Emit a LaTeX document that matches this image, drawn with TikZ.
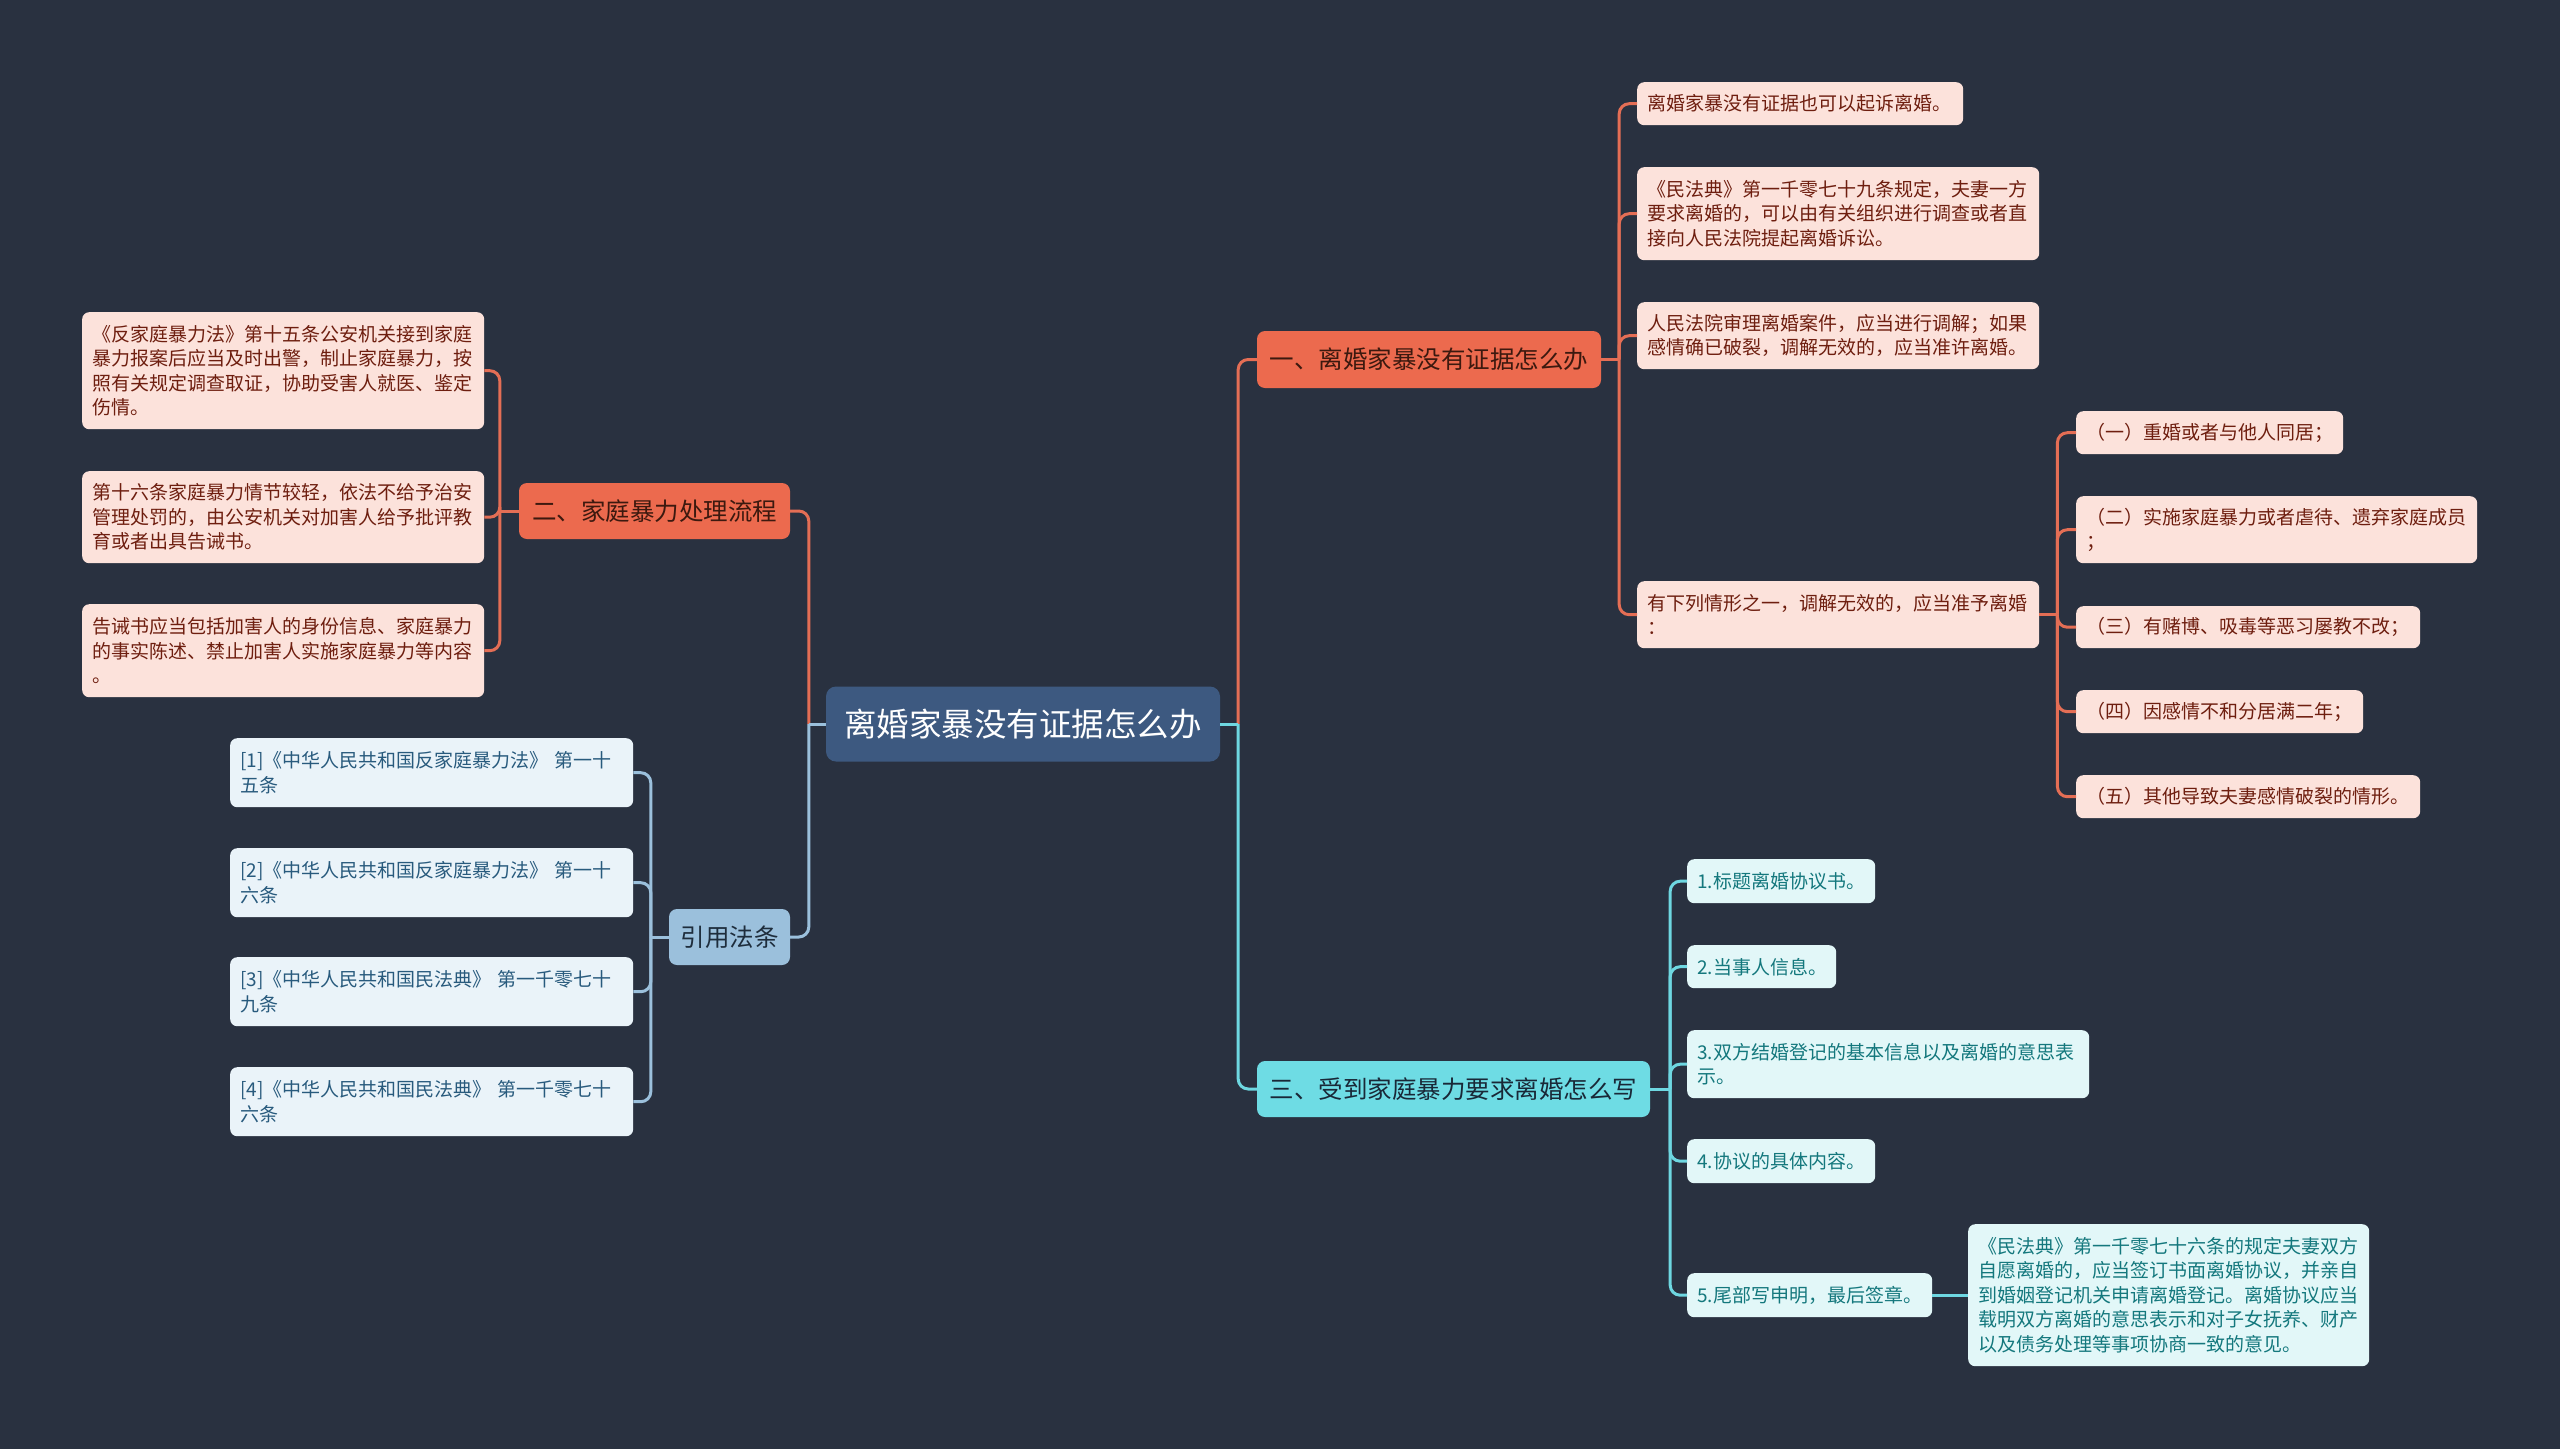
\documentclass[tikz,border=0pt]{standalone}
\usepackage{fontspec}
\setmainfont{Noto Sans CJK SC}
\definecolor{bg}{RGB}{41,49,64}
\definecolor{rootfill}{RGB}{61,89,128}
\definecolor{orfill}{RGB}{236,106,78}
\definecolor{ortext}{RGB}{60,25,15}
\definecolor{orline}{RGB}{228,110,85}
\definecolor{cyfill}{RGB}{110,220,228}
\definecolor{cytext}{RGB}{25,40,55}
\definecolor{cyline}{RGB}{110,215,225}
\definecolor{blfill}{RGB}{155,192,220}
\definecolor{bltext}{RGB}{30,45,60}
\definecolor{blline}{RGB}{155,192,220}
\definecolor{pkleaf}{RGB}{252,226,219}
\definecolor{pktext}{RGB}{110,30,15}
\definecolor{cyleaf}{RGB}{226,247,248}
\definecolor{cyltext}{RGB}{20,120,125}
\definecolor{blleaf}{RGB}{234,243,249}
\definecolor{blltext}{RGB}{40,90,125}
\begin{document}
\begin{tikzpicture}[x=1pt,y=-1pt,
  rootnode/.style={fill=rootfill, text=white, rounded corners=10pt, inner sep=0pt,
    font=\fontsize{32.5}{38}\selectfont},
  branchnode/.style={rounded corners=8pt, inner sep=0pt, font=\fontsize{24.5}{30}\selectfont},
  orbranch/.style={branchnode, fill=orfill, text=ortext},
  cybranch/.style={branchnode, fill=cyfill, text=cytext},
  blbranch/.style={branchnode, fill=blfill, text=bltext},
  leaf/.style={anchor=north west, rounded corners=7pt, inner xsep=10pt, inner ysep=0pt,
    align=left, font=\fontsize{19}{24.5}\selectfont},
  pkleafnode/.style={leaf, fill=pkleaf, text=pktext},
  cyleafnode/.style={leaf, fill=cyleaf, text=cyltext},
  blleafnode/.style={leaf, fill=blleaf, text=blltext},
  conn/.style={line width=3pt},
  oline/.style={conn, draw=orline},
  cline/.style={conn, draw=cyline},
  bline/.style={conn, draw=blline},
  rc/.style={rounded corners=10pt}
]
\fill[bg] (0,0) rectangle (2560,1449);
\useasboundingbox (0,0) rectangle (2560,1449);

% root and branches
\node[rootnode, minimum width=394pt, minimum height=75pt] (root) at (1023,724) {离婚家暴没有证据怎么办};
\node[orbranch, minimum width=344pt, minimum height=57pt] (b1) at (1429,359.5) {一、离婚家暴没有证据怎么办};
\node[orbranch, minimum width=271pt, minimum height=56pt] (b2) at (654.5,511) {二、家庭暴力处理流程};
\node[cybranch, minimum width=393pt, minimum height=56pt] (b3) at (1453.5,1089) {三、受到家庭暴力要求离婚怎么写};
\node[blbranch, minimum width=121pt, minimum height=56pt] (b4) at (729.5,937) {引用法条};

% branch 1 leaves
\node[pkleafnode, text width=306pt, minimum height=43pt] (c1a) at (1637,82) {离婚家暴没有证据也可以起诉离婚。};
\node[pkleafnode, text width=382pt, minimum height=93pt] (c1b) at (1637,167) {《民法典》第一千零七十九条规定，夫妻一方\\要求离婚的，可以由有关组织进行调查或者直\\接向人民法院提起离婚诉讼。};
\node[pkleafnode, text width=382pt, minimum height=67pt] (c1c) at (1637,302) {人民法院审理离婚案件，应当进行调解；如果\\感情确已破裂，调解无效的，应当准许离婚。};
\node[pkleafnode, text width=382pt, minimum height=67pt] (c1d) at (1637,581) {有下列情形之一，调解无效的，应当准予离婚\\：};

\node[pkleafnode, text width=247pt, minimum height=43pt] (g1) at (2076,411) {（一）重婚或者与他人同居；};
\node[pkleafnode, text width=381pt, minimum height=67pt] (g2) at (2076,496) {（二）实施家庭暴力或者虐待、遗弃家庭成员\\；};
\node[pkleafnode, text width=324pt, minimum height=42pt] (g3) at (2076,606) {（三）有赌博、吸毒等恶习屡教不改；};
\node[pkleafnode, text width=267pt, minimum height=43pt] (g4) at (2076,690) {（四）因感情不和分居满二年；};
\node[pkleafnode, text width=324pt, minimum height=43pt] (g5) at (2076,775) {（五）其他导致夫妻感情破裂的情形。};

% branch 2 leaves
\node[pkleafnode, text width=382pt, minimum height=117pt] (b2a) at (82,312) {《反家庭暴力法》第十五条公安机关接到家庭\\暴力报案后应当及时出警，制止家庭暴力，按\\照有关规定调查取证，协助受害人就医、鉴定\\伤情。};
\node[pkleafnode, text width=382pt, minimum height=92pt] (b2b) at (82,471) {第十六条家庭暴力情节较轻，依法不给予治安\\管理处罚的，由公安机关对加害人给予批评教\\育或者出具告诫书。};
\node[pkleafnode, text width=382pt, minimum height=93pt] (b2c) at (82,604) {告诫书应当包括加害人的身份信息、家庭暴力\\的事实陈述、禁止加害人实施家庭暴力等内容\\。};

% branch 4 leaves
\node[blleafnode, text width=383pt, minimum height=69pt] (r1) at (230,738) {[1]《中华人民共和国反家庭暴力法》~第一十\\五条};
\node[blleafnode, text width=383pt, minimum height=69pt] (r2) at (230,848) {[2]《中华人民共和国反家庭暴力法》~第一十\\六条};
\node[blleafnode, text width=383pt, minimum height=69pt] (r3) at (230,957) {[3]《中华人民共和国民法典》~第一千零七十\\九条};
\node[blleafnode, text width=383pt, minimum height=69pt] (r4) at (230,1067) {[4]《中华人民共和国民法典》~第一千零七十\\六条};

% branch 3 leaves
\node[cyleafnode, text width=168pt, minimum height=44pt] (t1) at (1687,859) {1.标题离婚协议书。};
\node[cyleafnode, text width=129pt, minimum height=43pt] (t2) at (1687,945) {2.当事人信息。};
\node[cyleafnode, text width=382pt, minimum height=68pt] (t3) at (1687,1030) {3.双方结婚登记的基本信息以及离婚的意思表\\示。};
\node[cyleafnode, text width=168pt, minimum height=44pt] (t4) at (1687,1139) {4.协议的具体内容。};
\node[cyleafnode, text width=225pt, minimum height=44pt] (t5) at (1687,1273) {5.尾部写申明，最后签章。};
\node[cyleafnode, text width=381pt, minimum height=142pt] (t5c) at (1968,1224) {《民法典》第一千零七十六条的规定夫妻双方\\自愿离婚的，应当签订书面离婚协议，并亲自\\到婚姻登记机关申请离婚登记。离婚协议应当\\载明双方离婚的意思表示和对子女抚养、财产\\以及债务处理等事项协商一致的意见。};

% junctions
\coordinate (jR) at ([xshift=18pt]root.east);
\coordinate (jL) at ([xshift=-17pt]root.west);
\coordinate (j1) at ([xshift=18pt]b1.east);
\coordinate (jd) at ([xshift=18pt]c1d.east);
\coordinate (j2) at ([xshift=-19pt]b2.west);
\coordinate (j3) at ([xshift=20pt]b3.east);
\coordinate (j4) at ([xshift=-18pt]b4.west);

% root connectors
\draw[oline, rc] (jR) |- (b1.west);
\draw[cline, rc] (jR) |- (b3.west);
\draw[cline] (root.east) -- (jR);
\draw[oline, rc] (jL) |- (b2.east);
\draw[bline, rc] (jL) |- (b4.east);
\draw[bline] (root.west) -- (jL);

% branch 1
\draw[oline] (b1.east) -- (j1);
\foreach \c in {c1a,c1b,c1c,c1d} \draw[oline, rc] (j1) |- (\c.west);
\draw[oline] (c1d.east) -- (jd);
\foreach \c in {g1,g2,g3,g4,g5} \draw[oline, rc] (jd) |- (\c.west);

% branch 2
\draw[oline] (b2.west) -- (j2);
\foreach \c in {b2a,b2b,b2c} \draw[oline, rc] (j2) |- (\c.east);

% branch 3
\draw[cline] (b3.east) -- (j3);
\foreach \c in {t1,t2,t3,t4,t5} \draw[cline, rc] (j3) |- (\c.west);
\draw[cline] (t5.east) -- (t5c.west);

% branch 4
\draw[bline] (b4.west) -- (j4);
\foreach \c in {r1,r2,r3,r4} \draw[bline, rc] (j4) |- (\c.east);
\end{tikzpicture}
\end{document}
